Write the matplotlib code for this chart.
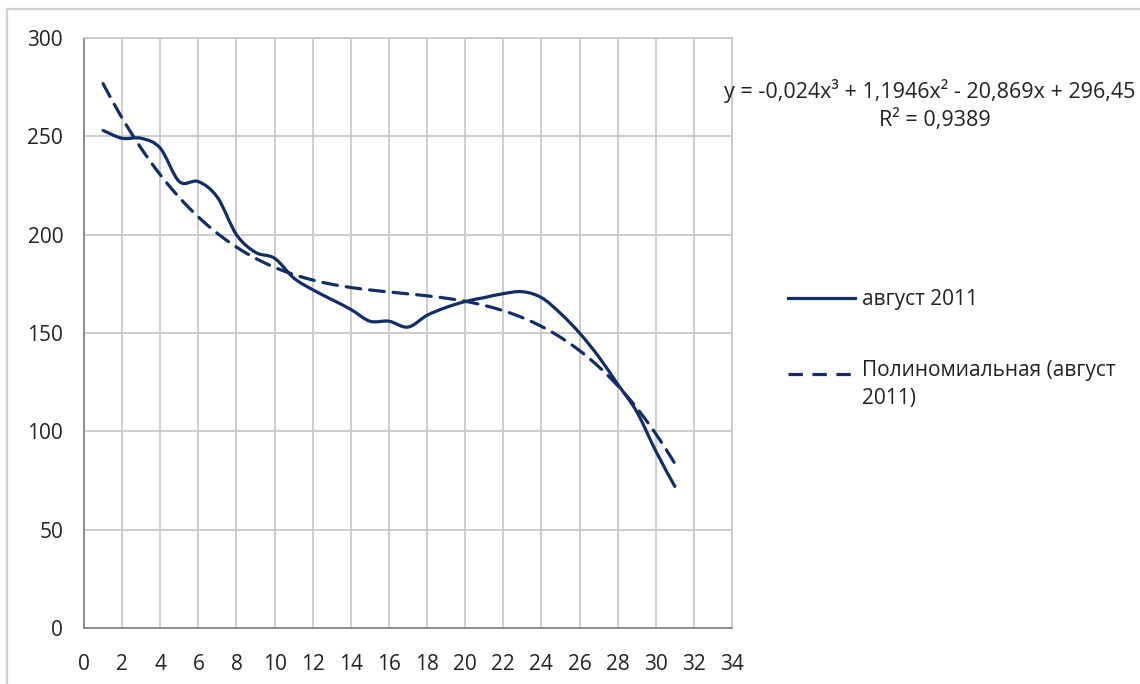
import matplotlib
matplotlib.use('Agg')
import matplotlib.pyplot as plt
import numpy as np
from matplotlib.path import Path
from matplotlib.patches import PathPatch
from matplotlib.lines import Line2D

plt.rcParams['font.family'] = ['Open Sans', 'DejaVu Sans']

# Daily values, August 2011
days = list(range(1, 32))
values = [253, 249, 249, 244, 227, 227, 219, 200, 191, 188, 178, 172, 167, 162, 156,
          156, 153, 159, 163, 166, 168, 170, 171, 168, 160, 150, 138, 124, 110, 90, 72]
series_label = 'август 2011'
trend_label = 'Полиномиальная (август\n2011)'
equation = 'y = -0,024x³ + 1,1946x² - 20,869x + 296,45'
r2_text = 'R² = 0,9389'

navy = '#112e66'
txt = '#222222'


def smooth_path(x, y):
    # Excel-like smoothed line: cubic bezier segments (Catmull-Rom style)
    pts = np.column_stack([x, y]).astype(float)
    n = len(pts)
    verts = [pts[0]]
    codes = [Path.MOVETO]
    for i in range(n - 1):
        p0 = pts[i - 1] if i > 0 else pts[i]
        p1 = pts[i]
        p2 = pts[i + 1]
        p3 = pts[i + 2] if i + 2 < n else pts[i + 1]
        c1 = p1 + (p2 - p0) / 6.0
        c2 = p2 - (p3 - p1) / 6.0
        verts += [c1, c2, p2]
        codes += [Path.CURVE4] * 3
    return Path(verts, codes)


def fx(px):
    return px / 1140


def fy(py):
    return 1 - py / 684


fig = plt.figure(figsize=(11.4, 6.84), dpi=100)
ax = fig.add_axes([fx(84), fy(628), 648 / 1140, 590 / 684])

# smoothed data line
patch = PathPatch(smooth_path(days, values), facecolor='none', edgecolor=navy,
                  lw=2.3, capstyle='round', joinstyle='round', zorder=3)
ax.add_patch(patch)

# cubic trend line (least squares, like Excel)
coef = np.polyfit(days, values, 3)
xt = np.linspace(days[0], days[-1], 200)
dash = (0, (4.6, 2.8))
ax.plot(xt, np.polyval(coef, xt), color=navy, lw=2.3,
        linestyle=dash, dash_capstyle='round', zorder=3)

ax.set_xlim(0, 34)
ax.set_ylim(0, 300)
ax.set_xticks(np.arange(0, 35, 2))
ax.set_yticks(np.arange(0, 301, 50))
ax.grid(True, color='#c8c8c8', lw=1.3)
ax.set_axisbelow(True)
ax.tick_params(length=0, labelsize=15, colors=txt)
ax.tick_params(axis='x', pad=19)
ax.tick_params(axis='y', pad=15)
for s in ['top', 'right']:
    ax.spines[s].set_color('#c8c8c8')
    ax.spines[s].set_linewidth(1.3)
for s in ['left', 'bottom']:
    ax.spines[s].set_color('#868686')
    ax.spines[s].set_linewidth(1.3)

# legend
fig.add_artist(Line2D([fx(788), fx(855)], [fy(298), fy(298)], color=navy, lw=2.3,
                      transform=fig.transFigure))
fig.add_artist(Line2D([fx(788), fx(855)], [fy(374), fy(374)], color=navy, lw=2.3,
                      linestyle=(0, (4.5, 3.0)), transform=fig.transFigure))
fig.text(fx(862), fy(299), series_label, ha='left', va='center', fontsize=15,
         color=txt)
fig.text(fx(862), fy(360), trend_label, ha='left', va='top', fontsize=15,
         color=txt, linespacing=1.45)

# trendline equation
fig.text(fx(930), fy(91), equation, ha='center', va='center',
         fontsize=15.5, color=txt)
fig.text(fx(935), fy(120), r2_text, ha='center', va='center',
         fontsize=15.5, color=txt)

# chart area border
fig.add_artist(Line2D([fx(7), 1], [fy(9), fy(9)], color='#d0d0d0',
                      lw=1.6, transform=fig.transFigure))
fig.add_artist(Line2D([fx(7), fx(7)], [0, fy(9)], color='#d0d0d0',
                      lw=1.6, transform=fig.transFigure))

fig.savefig('out.png', dpi=100, facecolor='white')
